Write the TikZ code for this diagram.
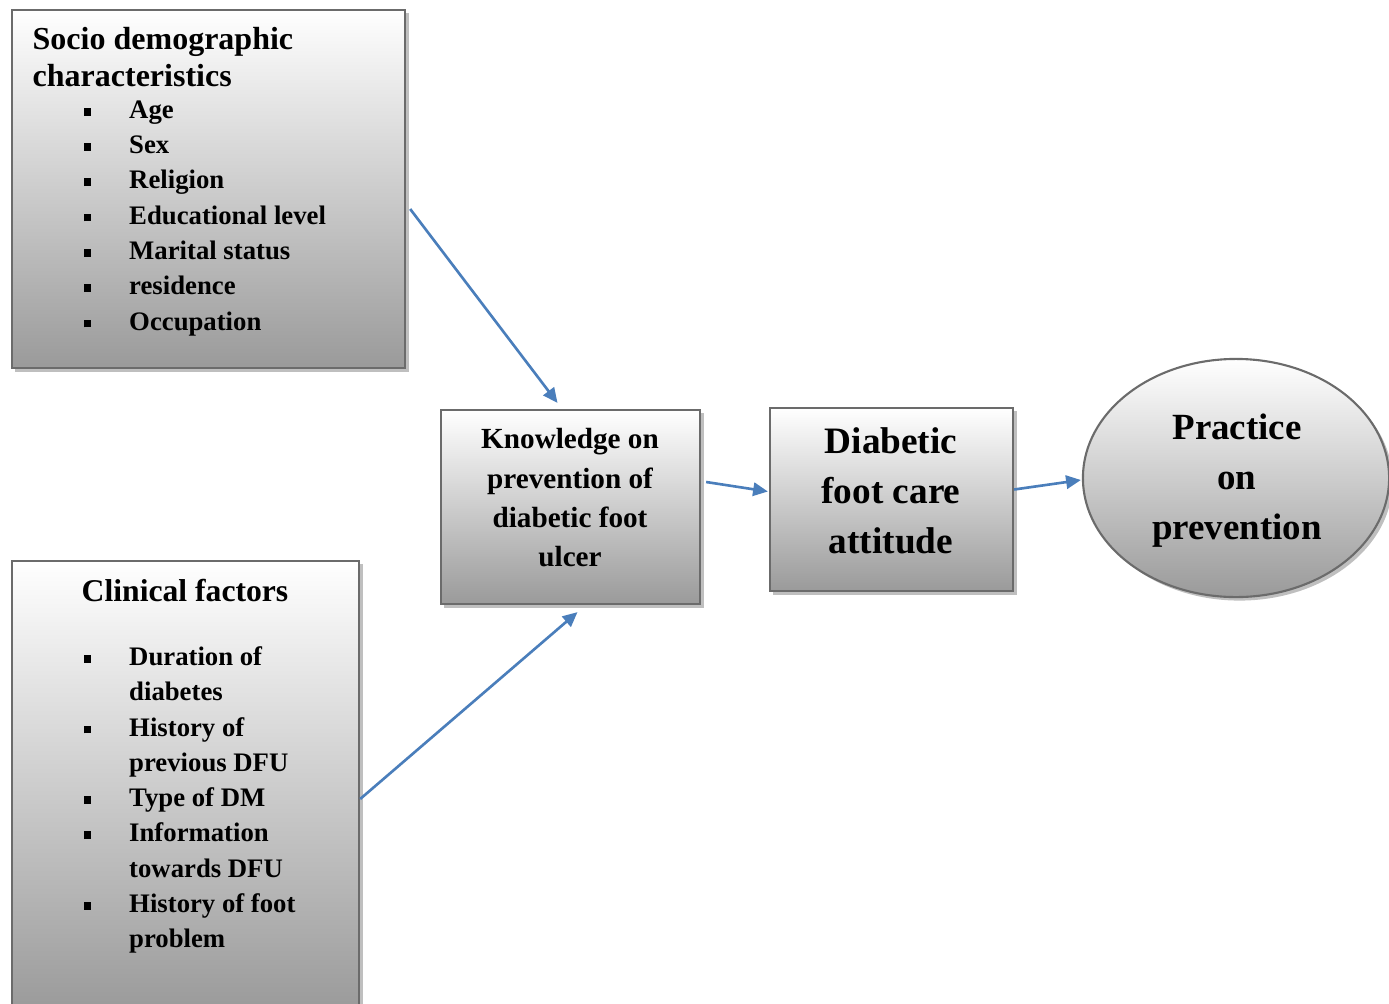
\documentclass[tikz,border=0pt]{standalone}
\usepackage{fontspec}
\setmainfont{Liberation Serif}
\usetikzlibrary{arrows.meta,shapes.geometric,shadows}
\definecolor{arrblue}{HTML}{4A7EBB}
\definecolor{boxborder}{HTML}{6B6B6B}
\definecolor{boxbottom}{HTML}{9A9A9A}
\newcommand\bul{\makebox[0.455cm][l]{\raisebox{0.8pt}{\rule{2.2pt}{2.2pt}}}}
\newcommand\ind{\hspace*{0.455cm}}
\begin{document}
\begin{tikzpicture}[x=0.01cm,y=-0.01cm,
  gbox/.style={draw=boxborder,line width=0.6pt,top color=white,bottom color=boxbottom,
    inner sep=0pt,
    drop shadow={shadow xshift=0.035cm,shadow yshift=-0.035cm,fill=black,opacity=0.25}},
  txt/.style={inner sep=0pt,font=\bfseries},
  arr/.style={draw=arrblue,line width=0.75pt,-{Triangle[length=4.2pt,width=3.8pt]}}]
\useasboundingbox (0,0) rectangle (1389,1003);
% boxes
\node[gbox,rectangle,minimum width=3.93cm,minimum height=3.58cm] (socio) at (208.5,189) {};
\node[gbox,rectangle,minimum width=3.47cm,minimum height=4.50cm] (clin) at (185.5,786) {};
\node[gbox,rectangle,minimum width=2.59cm,minimum height=1.94cm] (know) at (570.5,507) {};
\node[gbox,rectangle,minimum width=2.43cm,minimum height=1.83cm] (att) at (891.5,499.5) {};
\node[gbox,ellipse,minimum width=3.06cm,minimum height=2.38cm] (prac) at (1236,478) {};
% texts
\node[txt,anchor=north west,align=left,font=\bfseries\fontsize{9.1pt}{10.5pt}\selectfont] (sociot) at (32,27)
  {Socio demographic\\characteristics};
\node[txt,anchor=north west,align=left,font=\bfseries\fontsize{7.6pt}{10.04pt}\selectfont] (socib) at (83,100)
  {\bul Age\\\bul Sex\\\bul Religion\\\bul Educational level\\\bul Marital status\\\bul residence\\\bul Occupation};
\node[txt,anchor=north west,align=left,font=\bfseries\fontsize{9.0pt}{10.5pt}\selectfont] (clint) at (81,578)
  {Clinical factors};
\node[txt,anchor=north west,align=left,font=\bfseries\fontsize{7.6pt}{10.03pt}\selectfont] (clinb) at (83,646)
  {\bul Duration of\\\ind diabetes\\\bul History of\\\ind previous DFU\\\bul Type of DM\\\bul Information\\\ind towards DFU\\\bul History of foot\\\ind problem};
\node[txt,anchor=north,align=center,font=\bfseries\fontsize{8.3pt}{11.1pt}\selectfont] (knowt) at (570,428)
  {Knowledge on\\prevention of\\diabetic foot\\ulcer};
\node[txt,anchor=north,align=center,font=\bfseries\fontsize{10.6pt}{14.2pt}\selectfont] (attt) at (891,427)
  {Diabetic\\foot care\\attitude};
\node[txt,anchor=north,align=center,font=\bfseries\fontsize{10.5pt}{14.2pt}\selectfont] (pract) at (1237,413)
  {Practice\\on\\prevention};
% connectors
\draw[arr] ([shift={(4,20)}]socio.east) -- ([shift={(-13,-6)}]know.north);
\draw[arr] ([shift={(0,13)}]clin.east) -- ([shift={(7,7)}]know.south);
\draw[arr] ([shift={(5,-25)}]know.east) -- ([shift={(-1,-8)}]att.west);
\draw[arr] ([shift={(0,-10)}]att.east) -- ([shift={(-1,2)}]prac.west);
\end{tikzpicture}
\end{document}
